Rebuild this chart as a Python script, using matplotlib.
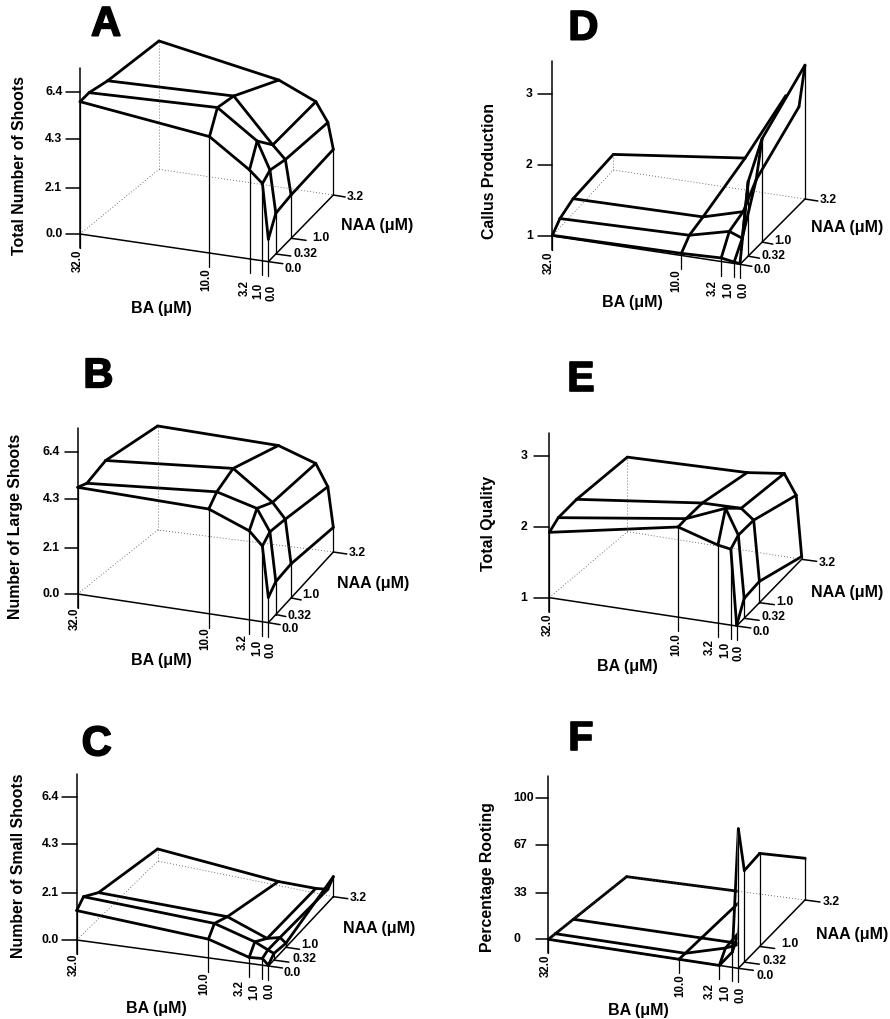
import matplotlib
matplotlib.use('Agg')
import matplotlib.pyplot as plt
import matplotlib.patheffects as pe

plt.rcParams['font.family'] = ['Liberation Sans', 'DejaVu Sans']
plt.rcParams['font.weight'] = 'bold'

ba_levels = [32.0, 10.0, 3.2, 1.0, 0.0]
ba_labels = ['32.0', '10.0', '3.2', '1.0', '0.0']
naa_labels = ['0.0', '0.32', '1.0', '3.2']

# one row per NAA level (0, 0.32, 1, 3.2), one column per BA level
total_shoots = [[5.98, 5.26, 4.02, 3.49, 1.01],
                [6.05, 6.23, 4.98, 3.75, 1.84],
                [5.90, 6.05, 4.10, 3.52, 1.96],
                [5.80, 4.83, 4.10, 3.24, 2.06]]
large_shoots = [[4.82, 4.73, 4.02, 3.42, 1.14],
                [4.67, 5.15, 4.67, 3.70, 1.49],
                [5.02, 5.48, 4.20, 3.52, 1.54],
                [4.70, 4.50, 3.90, 2.92, 1.11]]
small_shoots = [[1.32, 0.84, 0.27, 0.30, 0.04],
                [1.64, 1.27, 0.70, 0.42, 0.30],
                [1.17, 0.97, 0.27, 0.40, 0.18],
                [0.54, 0.18, 0.21, 0.28, 0.90]]
callus = [[1.01, 1.03, 1.05, 1.02, 1.01],
          [1.13, 1.17, 1.31, 1.24, 2.05],
          [1.21, 1.23, 1.39, 1.87, 2.46],
          [1.22, 1.45, 2.42, 2.29, 2.89]]
quality = [[1.92, 2.27, 2.10, 2.07, 1.01],
           [2.02, 2.28, 2.51, 2.16, 1.28],
           [2.06, 2.28, 2.29, 2.15, 1.30],
           [2.05, 2.10, 2.17, 1.89, 1.04]]
rooting = [[0, 0, 0, 11, 99],
           [0, 0, 8, 20, 65],
           [0, 0, 0, 0, 66],
           [0, 0, 0, 0, 29.6]]

shoot_ticks = [0.0, 2.1, 4.3, 6.4]
shoot_tick_labels = ['0.0', '2.1', '4.3', '6.4']
score_ticks = [1, 2, 3]
score_tick_labels = ['1', '2', '3']
root_ticks = [0, 33, 67, 100]
root_tick_labels = ['0', '33', '67', '100']

# layout numbers are in thirds of a pixel, measured from the panel's corner
panels = [
    dict(letter='A', ylabel='Total Number of Shoots', values=total_shoots,
         ticks=shoot_ticks, tick_labels=shoot_tick_labels, corner=(0, 0),
         fl=(240, 702), fr=(805, 785), bl=(477, 508), br=(1000, 585),
         naa_pos=[0, .115, .35, 1], kz=66.4, top=7.5, tick_x=197, tick_text=135,
         ba_text=[(232, 755), (618, 810), (733, 845), (775, 855), (815, 860)],
         naa_text=[(853, 807), (880, 762), (938, 715), (1040, 590)],
         ylab=(58, 497), ba_lab=(483, 925), naa_lab=(1130, 675), let=(318, 68)),
    dict(letter='B', ylabel='Number of Large Shoots', values=large_shoots,
         ticks=shoot_ticks, tick_labels=shoot_tick_labels, corner=(0, 340),
         fl=(233, 762), fr=(805, 848), bl=(473, 570), br=(1000, 636),
         naa_pos=[0, .115, .35, 1], kz=66.4, top=7.5, tick_x=195, tick_text=128,
         ba_text=[(225, 808), (615, 868), (727, 888), (772, 905), (813, 912)],
         naa_text=[(845, 866), (862, 827), (908, 766), (1045, 640)],
         ylab=(48, 558), ba_lab=(483, 962), naa_lab=(1120, 730), let=(295, 103)),
    dict(letter='C', ylabel='Number of Small Shoots', values=small_shoots,
         ticks=shoot_ticks, tick_labels=shoot_tick_labels, corner=(0, 680),
         fl=(230, 780), fr=(805, 858), bl=(473, 543), br=(1000, 650),
         naa_pos=[0, .085, .27, 1], kz=66.9, top=7.45, tick_x=185, tick_text=125,
         ba_text=[(222, 825), (612, 882), (720, 905), (762, 918), (808, 915)],
         naa_text=[(852, 878), (878, 837), (903, 795), (1048, 655)],
         ylab=(57, 557), ba_lab=(468, 984), naa_lab=(1138, 745), let=(290, 187)),
    dict(letter='D', ylabel='Callus Production', values=callus,
         ticks=score_ticks, tick_labels=score_tick_labels, corner=(445, 0),
         fl=(322, 708), fr=(885, 793), bl=(505, 510), br=(1080, 597),
         naa_pos=[0, .125, .34, 1], kz=212.5, top=3.47, tick_x=278, tick_text=243,
         ba_text=[(312, 760), (695, 815), (803, 845), (850, 850), (895, 850)],
         naa_text=[(925, 810), (948, 768), (988, 722), (1123, 600)],
         ylab=(135, 513), ba_lab=(563, 908), naa_lab=(1205, 682), let=(415, 80),
         hidden=[('col', 2, 2), ('row', 3, 2)]),
    dict(letter='E', ylabel='Total Quality', values=quality,
         ticks=score_ticks, tick_labels=score_tick_labels, corner=(445, 340),
         fl=(313, 773), fr=(875, 858), bl=(547, 575), br=(1070, 658),
         naa_pos=[0, .115, .35, 1], kz=213, top=3.32, tick_x=268, tick_text=227,
         ba_text=[(307, 827), (695, 885), (793, 903), (840, 912), (882, 920)],
         naa_text=[(922, 877), (950, 832), (995, 785), (1122, 670)],
         ylab=(132, 550), ba_lab=(547, 978), naa_lab=(1205, 757), let=(407, 113)),
    dict(letter='F', ylabel='Percentage Rooting', values=rooting,
         ticks=root_ticks, tick_labels=root_tick_labels, corner=(445, 680),
         fl=(310, 778), fr=(880, 865), bl=(545, 590), br=(1080, 660),
         naa_pos=[0, .09, .32, 1], kz=4.23, top=116, tick_x=272, tick_text=205,
         ba_text=[(303, 830), (705, 888), (795, 915), (840, 920), (885, 925)],
         naa_text=[(935, 888), (953, 843), (1010, 792), (1132, 666)],
         ylab=(128, 590), ba_lab=(580, 990), naa_lab=(1220, 765), let=(407, 172),
         wall=True),
]


def page(p, x, y):
    return x / 3 + p['corner'][0], y / 3 + p['corner'][1]


def project(p, ba, naa_i, z):
    # floor position from the four corners, then straight up by the value
    u = ba / ba_levels[0]
    v = p['naa_pos'][naa_i]
    fx = p['fr'][0] + (p['fl'][0] - p['fr'][0]) * u
    fy = p['fr'][1] + (p['fl'][1] - p['fr'][1]) * u
    bx = p['br'][0] + (p['bl'][0] - p['br'][0]) * u
    by = p['br'][1] + (p['bl'][1] - p['br'][1]) * u
    x = fx + (bx - fx) * v
    y = fy + (by - fy) * v - (z - p['ticks'][0]) * p['kz']
    return page(p, x, y)


def line(ax, pts, lw=0.9, z=2, **kw):
    kw.setdefault('color', 'black')
    kw.setdefault('solid_capstyle', 'round')
    ax.plot([a[0] for a in pts], [a[1] for a in pts], lw=lw, zorder=z, **kw)


def draw_panel(ax, p):
    vals = p['values']
    base = p['ticks'][0]
    n_ba = len(ba_levels)
    n_naa = len(naa_labels)
    hidden = p.get('hidden', [])
    surf = lambda i, j: project(p, ba_levels[j], i, vals[i][j])
    floor = lambda i, j: project(p, ba_levels[j], i, base)

    # back edges of the floor and the hidden corner post
    dots = dict(color='#444444', ls=(0, (1, 2.6)), z=5)
    line(ax, [floor(0, 0), floor(3, 0), floor(3, 4)], lw=0.6, **dots)
    line(ax, [floor(3, 0), surf(3, 0)], lw=0.6, **dots)

    # front and side edges of the floor
    line(ax, [floor(0, 0), floor(0, 4), floor(3, 4)], lw=1.1, z=5)

    # z axis
    x0, y0 = floor(0, 0)
    line(ax, [(x0, y0 + 14), project(p, ba_levels[0], 0, p['top'])], lw=1.1, z=5)
    for t, lab in zip(p['ticks'], p['tick_labels']):
        tx, ty = project(p, ba_levels[0], 0, t)
        line(ax, [(page(p, p['tick_x'], 0)[0], ty), (tx, ty)], lw=1.1, z=5)
        ax.text(page(p, p['tick_text'], 0)[0], ty, lab, fontsize=8.8,
                ha='left', va='center')

    # BA ticks run down from the front row of the surface
    for j in range(n_ba):
        fx, fy = floor(0, j)
        line(ax, [surf(0, j), (fx, fy + 14)], lw=0.9, z=5)
        tx, ty = page(p, *p['ba_text'][j])
        ax.text(tx, ty - 2, ba_labels[j], rotation=90, fontsize=8.3,
                ha='center', va='top')

    # NAA ticks on the right edge, with drops from the BA=0 column
    for i in range(n_naa):
        fx, fy = floor(i, 4)
        tx, ty = page(p, *p['naa_text'][i])
        line(ax, [(fx, fy), (min(tx - 1.5, fx + 15), fy + 2)], lw=1.1, z=5)
        if i > 0:
            line(ax, [surf(i, 4), (fx, fy)], lw=0.9, z=5)
        ax.text(tx, ty, naa_labels[i], fontsize=8.8, ha='left', va='center')

    # the surface grid
    for i in range(n_naa):
        for j in range(n_ba - 1):
            if ('row', i, j) not in hidden:
                line(ax, [surf(i, j), surf(i, j + 1)], lw=2.0, z=2)
    for j in range(n_ba):
        for i in range(n_naa - 1):
            if ('col', j, i) not in hidden:
                line(ax, [surf(i, j), surf(i + 1, j)], lw=2.0, z=4 if j == n_ba - 1 else 2)

    if p.get('wall'):
        # the tall BA=0 column hides whatever is behind it
        outline = [surf(i, 4) for i in range(n_naa)] + [floor(3, 4), floor(0, 4)]
        ax.fill([a[0] for a in outline], [a[1] for a in outline], color='white', zorder=3)

    tx, ty = page(p, *p['ylab'])
    ax.text(tx, ty, p['ylabel'], rotation=90, fontsize=11.4, ha='center', va='center')
    tx, ty = page(p, *p['ba_lab'])
    ax.text(tx, ty, 'BA (\u03bcM)', fontsize=11.5, ha='center', va='center')
    tx, ty = page(p, *p['naa_lab'])
    ax.text(tx, ty, 'NAA (\u03bcM)', fontsize=11.5, ha='center', va='center')
    tx, ty = page(p, *p['let'])
    ax.text(tx, ty + 2, p['letter'], fontsize=30, ha='center', va='center',
            path_effects=[pe.withStroke(linewidth=1.2, foreground='black')])


fig = plt.figure(figsize=(8.9, 10.19), dpi=100)
ax = fig.add_axes([0, 0, 1, 1])
ax.set_xlim(0, 890)
ax.set_ylim(1019, 0)
ax.axis('off')

for p in panels:
    draw_panel(ax, p)

fig.savefig('out.png', dpi=100, facecolor='white')
